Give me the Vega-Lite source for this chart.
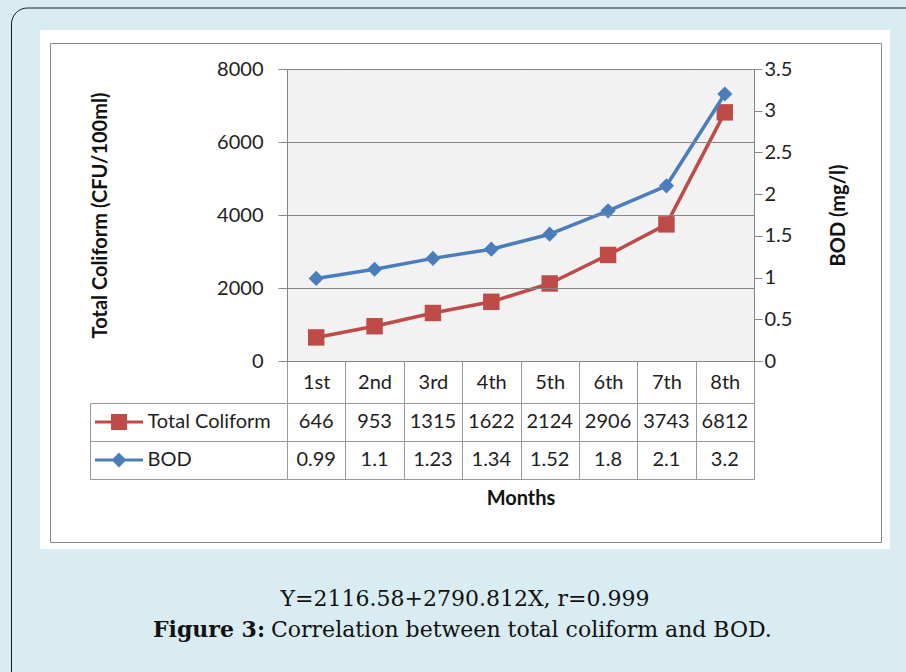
{
  "$schema": "https://vega.github.io/schema/vega-lite/v6.json",
  "background": "#d9ecf1",
  "autosize": {"type": "none"},
  "padding": {"left": 40, "top": 30, "right": 866, "bottom": 642},
  "config": {"font": "Lato", "view": {"stroke": null}},
  "datasets": {
    "months": [
      {"month": "1st", "series": "Total Coliform", "value": 646},
      {"month": "2nd", "series": "Total Coliform", "value": 953},
      {"month": "3rd", "series": "Total Coliform", "value": 1315},
      {"month": "4th", "series": "Total Coliform", "value": 1622},
      {"month": "5th", "series": "Total Coliform", "value": 2124},
      {"month": "6th", "series": "Total Coliform", "value": 2906},
      {"month": "7th", "series": "Total Coliform", "value": 3743},
      {"month": "8th", "series": "Total Coliform", "value": 6812},
      {"month": "1st", "series": "BOD", "value": 0.99},
      {"month": "2nd", "series": "BOD", "value": 1.1},
      {"month": "3rd", "series": "BOD", "value": 1.23},
      {"month": "4th", "series": "BOD", "value": 1.34},
      {"month": "5th", "series": "BOD", "value": 1.52},
      {"month": "6th", "series": "BOD", "value": 1.8},
      {"month": "7th", "series": "BOD", "value": 2.1},
      {"month": "8th", "series": "BOD", "value": 3.2}
    ],
    "caption": [
      {"line": "1", "part": "eq", "text": "Y=2116.58+2790.812X, r=0.999"},
      {"line": "2", "part": "fig", "text": "Figure 3:"},
      {"line": "2", "part": "rest", "text": "Correlation between total coliform and BOD."}
    ]
  },
  "bounds": "flush",
  "spacing": 0,
  "vconcat": [
    {
      "width": 850,
      "height": 519,
      "view": {"fill": "#ffffff", "stroke": null},
      "data": {"name": "months"},
      "encoding": {
        "x": {
          "field": "month",
          "type": "ordinal",
          "scale": {"type": "band", "range": [247, 714], "paddingInner": 0, "paddingOuter": 0},
          "axis": {
            "orient": "bottom",
            "offset": -188,
            "zindex": 1,
            "grid": false,
            "domainColor": "#868686",
            "ticks": true,
            "tickBand": "extent",
            "tickSize": 118,
            "tickColor": "#999999",
            "labelAngle": 0,
            "labelBaseline": "middle",
            "labelPadding": -97,
            "labelFontSize": 20,
            "labelColor": "#1e1e1e",
            "title": "Months",
            "titleFontSize": 20,
            "titleFontWeight": "bold",
            "titleColor": "#111111",
            "titlePadding": 9
          }
        }
      },
      "layer": [
        {
          "transform": [{"filter": "datum.series === 'Total Coliform'"}],
          "encoding": {
            "y": {
              "field": "value",
              "type": "quantitative",
              "scale": {"domain": [0, 8000], "nice": false, "range": [331, 39]},
              "axis": {
                "orient": "left",
                "offset": -247,
                "zindex": 1,
                "values": [0, 2000, 4000, 6000, 8000],
                "format": "d",
                "grid": true,
                "gridColor": "#868686",
                "gridOpacity": 1,
                "domainColor": "#868686",
                "tickColor": "#868686",
                "tickSize": 9,
                "labelPadding": 15,
                "labelFontSize": 20,
                "labelColor": "#1e1e1e",
                "title": "Total Coliform (CFU/100ml)",
                "titleFontSize": 20,
                "titleFontWeight": "bold",
                "titleColor": "#111111",
                "titlePadding": 106
              }
            }
          },
          "layer": [
            {
              "mark": {"type": "rect", "color": "#f2f2f2", "opacity": 1},
              "encoding": {
                "y": {
                  "datum": 0,
                  "type": "quantitative",
                  "axis": {
                    "orient": "left",
                    "offset": -247,
                    "zindex": 1,
                    "values": [0, 2000, 4000, 6000, 8000],
                    "format": "d",
                    "grid": true,
                    "gridColor": "#868686",
                    "gridOpacity": 1,
                    "domainColor": "#868686",
                    "tickColor": "#868686",
                    "tickSize": 9,
                    "labelPadding": 15,
                    "labelFontSize": 20,
                    "labelColor": "#1e1e1e",
                    "title": "Total Coliform (CFU/100ml)",
                    "titleFontSize": 20,
                    "titleFontWeight": "bold",
                    "titleColor": "#111111",
                    "titlePadding": 106
                  }
                },
                "y2": {"datum": 8000}
              }
            },
            {"mark": {"type": "line", "color": "#be4b48", "strokeWidth": 3.5, "strokeCap": "round", "strokeJoin": "round"}},
            {"mark": {"type": "point", "shape": "square", "filled": true, "size": 270, "color": "#be4b48", "opacity": 1}}
          ]
        },
        {
          "transform": [{"filter": "datum.series === 'BOD'"}],
          "encoding": {
            "y": {
              "field": "value",
              "type": "quantitative",
              "scale": {"domain": [0, 3.5], "nice": false, "range": [331, 39]},
              "axis": {
                "orient": "right",
                "offset": -136,
                "zindex": 1,
                "values": [0, 0.5, 1, 1.5, 2, 2.5, 3, 3.5],
                "format": "~g",
                "grid": false,
                "domainColor": "#868686",
                "tickColor": "#868686",
                "tickSize": 8,
                "labelPadding": 2,
                "labelFontSize": 20,
                "labelColor": "#1e1e1e",
                "title": "BOD (mg/l)",
                "titleFontSize": 20,
                "titleFontWeight": "bold",
                "titleColor": "#111111",
                "titleAngle": -90,
                "titleBaseline": "top",
                "titlePadding": 37
              }
            }
          },
          "layer": [
            {"mark": {"type": "line", "color": "#4a7ebb", "strokeWidth": 3.5, "strokeCap": "round", "strokeJoin": "round"}},
            {"mark": {"type": "point", "shape": "diamond", "filled": true, "size": 230, "color": "#4a7ebb", "opacity": 1}}
          ]
        },
        {
          "encoding": {
            "y": {
              "field": "series",
              "type": "nominal",
              "scale": {"type": "band", "domain": ["Total Coliform", "BOD"], "range": [373, 449], "paddingInner": 0, "paddingOuter": 0},
              "axis": {
                "orient": "left",
                "offset": -50,
                "zindex": 1,
                "title": null,
                "labels": false,
                "ticks": true,
                "tickSize": -197,
                "tickBand": "extent",
                "tickColor": "#999999",
                "domainColor": "#999999",
                "grid": true,
                "gridColor": "#999999",
                "gridOpacity": 1
              }
            }
          },
          "layer": [
            {
              "mark": {"type": "text", "fontSize": 20, "color": "#1e1e1e"},
              "encoding": {"text": {"field": "value", "type": "nominal"}}
            },
            {
              "transform": [{"filter": "false"}],
              "mark": {"type": "point", "filled": true, "opacity": 1, "stroke": "#be4b48"},
              "encoding": {
                "fill": {
                  "field": "series",
                  "type": "nominal",
                  "scale": {"domain": ["Total Coliform"], "range": ["#be4b48"]},
                  "legend": {"orient": "none", "legendX": 53.5, "legendY": 373, "title": null, "padding": 0, "symbolType": "M-1,0H1M-0.27,-0.27H0.27V0.27H-0.27Z", "symbolSize": 2304, "symbolStrokeWidth": 3, "symbolStrokeColor": "#be4b48", "symbolFillColor": "#be4b48", "labelFontSize": 20, "labelColor": "#1e1e1e", "labelOffset": 3, "clipHeight": 38, "rowPadding": 0, "direction": "vertical"}
                }
              }
            },
            {
              "transform": [{"filter": "false"}],
              "mark": {"type": "point", "filled": true, "opacity": 1, "fill": "#4a7ebb"},
              "encoding": {
                "stroke": {
                  "field": "series",
                  "type": "nominal",
                  "scale": {"domain": ["BOD"], "range": ["#4a7ebb"]},
                  "legend": {"orient": "none", "legendX": 53.5, "legendY": 411, "title": null, "padding": 0, "symbolType": "M-1,0H1M0,-0.22L0.22,0L0,0.22L-0.22,0Z", "symbolSize": 2304, "symbolStrokeWidth": 3, "symbolStrokeColor": "#4a7ebb", "symbolFillColor": "#4a7ebb", "labelFontSize": 20, "labelColor": "#1e1e1e", "labelOffset": 3, "clipHeight": 38, "rowPadding": 0, "direction": "vertical"}
                }
              }
            }
          ]
        }
      ],
      "resolve": {"scale": {"y": "independent"}, "axis": {"y": "independent"}}
    },
    {
      "width": 850,
      "height": 123,
      "data": {"name": "caption"},
      "encoding": {
        "y": {"field": "line", "type": "ordinal", "scale": {"type": "point", "range": [57, 88], "padding": 0}, "axis": null}
      },
      "layer": [
        {
          "transform": [{"filter": "datum.part === 'eq'"}],
          "mark": {"type": "text", "font": "DejaVu Serif", "fontSize": 22, "baseline": "alphabetic", "align": "center", "color": "#111111"},
          "encoding": {"text": {"field": "text", "type": "nominal"}}
        },
        {
          "transform": [{"filter": "datum.part === 'fig'"}],
          "mark": {"type": "text", "font": "DejaVu Serif", "fontSize": 22, "fontWeight": "bold", "baseline": "alphabetic", "align": "right", "dx": -200, "color": "#111111"},
          "encoding": {"text": {"field": "text", "type": "nominal"}}
        },
        {
          "transform": [{"filter": "datum.part === 'rest'"}],
          "mark": {"type": "text", "font": "DejaVu Serif", "fontSize": 22, "baseline": "alphabetic", "align": "left", "dx": -194, "color": "#111111"},
          "encoding": {"text": {"field": "text", "type": "nominal"}}
        },
        {
          "transform": [{"filter": "false"}],
          "mark": {"type": "point"},
          "encoding": {
            "fill": {
              "field": "frame",
              "type": "quantitative",
              "scale": {"domain": [0, 1], "range": ["rgba(0,0,0,0)", "rgba(0,0,0,0)"]},
              "legend": {"type": "gradient", "orient": "none", "direction": "horizontal", "legendX": -29, "legendY": -541.5, "title": null, "padding": 0, "gradientLength": 930, "gradientThickness": 700, "gradientStrokeWidth": 0, "labelExpr": "''", "labelFontSize": 1, "labelOpacity": 0, "labelOffset": 0, "strokeColor": "#1a1a1a", "cornerRadius": 16}
            },
            "stroke": {
              "field": "border",
              "type": "quantitative",
              "scale": {"domain": [0, 2], "range": ["rgba(0,0,0,0)", "rgba(0,0,0,0)"]},
              "legend": {"type": "gradient", "orient": "none", "direction": "horizontal", "legendX": 10, "legendY": -506, "title": null, "padding": 0, "gradientLength": 831, "gradientThickness": 498, "gradientStrokeWidth": 0, "labelExpr": "''", "labelFontSize": 1, "labelOpacity": 0, "labelOffset": 0, "strokeColor": "#8a8a8a"}
            }
          }
        }
      ]
    }
  ]
}
